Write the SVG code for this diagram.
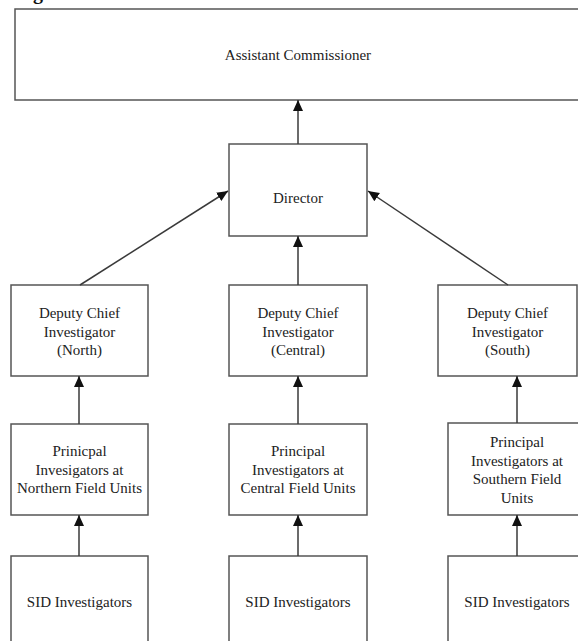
<svg xmlns="http://www.w3.org/2000/svg" width="578" height="641" viewBox="0 0 578 641">
<style>
  .box { fill: #ffffff; stroke: #555555; stroke-width: 1.5; }
  .lbl { font-family: 'Liberation Serif', 'Times New Roman', 'DejaVu Serif', serif; font-size: 15px; fill: #222222; text-anchor: middle; }
  .conn line { stroke: #3a3a3a; stroke-width: 1.5; marker-end: url(#arr); }
</style>
<defs>
  <marker id="arr" markerUnits="userSpaceOnUse" markerWidth="12" markerHeight="12" viewBox="0 0 12 12" refX="11" refY="6" orient="auto">
    <path d="M0,1 L11,6 L0,11 Z" fill="#111111"/>
  </marker>
</defs>
<rect width="578" height="641" fill="#ffffff"/>
<text x="33" y="-1" font-family="'Liberation Serif', serif" font-weight="bold" font-size="20" fill="#111111">g</text>

<g id="assistant-commissioner">
  <rect class="box" x="15" y="9" width="600" height="91"/>
  <text class="lbl" x="298" y="60">Assistant Commissioner</text>
</g>
<g id="director">
  <rect class="box" x="229" y="144" width="138" height="92"/>
  <text class="lbl" x="298" y="203">Director</text>
</g>
<g id="dci-north">
  <rect class="box" x="11" y="285" width="137" height="91"/>
  <text class="lbl" x="79.5" y="318">Deputy Chief</text>
  <text class="lbl" x="79.5" y="336.5">Investigator</text>
  <text class="lbl" x="79.5" y="355">(North)</text>
</g>
<g id="dci-central">
  <rect class="box" x="229" y="285" width="138" height="91"/>
  <text class="lbl" x="298" y="318">Deputy Chief</text>
  <text class="lbl" x="298" y="336.5">Investigator</text>
  <text class="lbl" x="298" y="355">(Central)</text>
</g>
<g id="dci-south">
  <rect class="box" x="438" y="285" width="139" height="91"/>
  <text class="lbl" x="507.5" y="318">Deputy Chief</text>
  <text class="lbl" x="507.5" y="336.5">Investigator</text>
  <text class="lbl" x="507.5" y="355">(South)</text>
</g>
<g id="pi-north">
  <rect class="box" x="11" y="424" width="137" height="91"/>
  <text class="lbl" x="79.5" y="456">Prinicpal</text>
  <text class="lbl" x="79.5" y="474.5">Invesigators at</text>
  <text class="lbl" x="79.5" y="493">Northern Field Units</text>
</g>
<g id="pi-central">
  <rect class="box" x="229" y="424" width="138" height="91"/>
  <text class="lbl" x="298" y="456">Principal</text>
  <text class="lbl" x="298" y="474.5">Investigators at</text>
  <text class="lbl" x="298" y="493">Central Field Units</text>
</g>
<g id="pi-south">
  <rect class="box" x="448" y="423" width="138" height="92"/>
  <text class="lbl" x="517" y="447">Principal</text>
  <text class="lbl" x="517" y="465.5">Investigators at</text>
  <text class="lbl" x="517" y="484">Southern Field</text>
  <text class="lbl" x="517" y="502.5">Units</text>
</g>
<g id="sid-north">
  <rect class="box" x="11" y="556" width="137" height="110"/>
  <text class="lbl" x="79.5" y="607">SID Investigators</text>
</g>
<g id="sid-central">
  <rect class="box" x="229" y="556" width="138" height="110"/>
  <text class="lbl" x="298" y="607">SID Investigators</text>
</g>
<g id="sid-south">
  <rect class="box" x="448" y="556" width="138" height="110"/>
  <text class="lbl" x="517" y="607">SID Investigators</text>
</g>

<g id="connectors" class="conn">
  <line x1="298" y1="144" x2="298" y2="100"/>
  <line x1="298" y1="285" x2="298" y2="236"/>
  <line x1="80" y1="285" x2="228" y2="191"/>
  <line x1="508" y1="285" x2="368" y2="191"/>
  <line x1="79" y1="424" x2="79" y2="376"/>
  <line x1="298" y1="424" x2="298" y2="376"/>
  <line x1="517" y1="423" x2="517" y2="376"/>
  <line x1="79" y1="556" x2="79" y2="515"/>
  <line x1="298" y1="556" x2="298" y2="515"/>
  <line x1="517" y1="556" x2="517" y2="515"/>
</g>
</svg>
